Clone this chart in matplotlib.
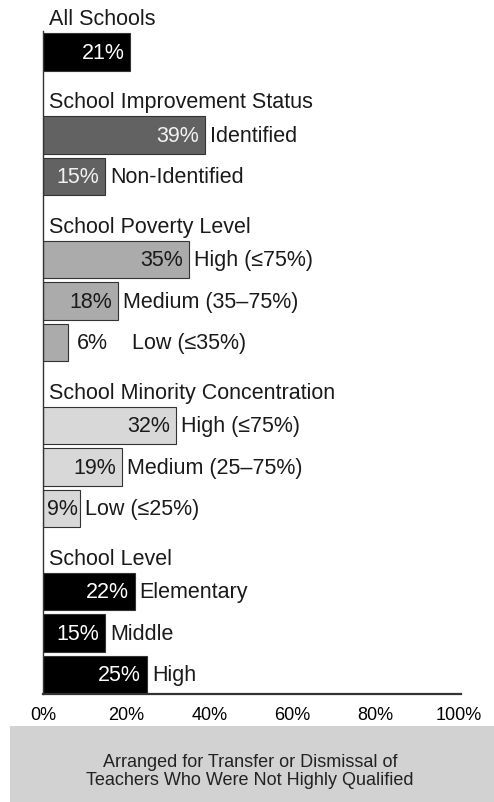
import matplotlib.pyplot as plt
from matplotlib.patches import Rectangle

plt.rcParams['font.family'] = ['Liberation Sans', 'DejaVu Sans']

# groups of the chart, top to bottom
group_titles = ["All Schools", "School Improvement Status", "School Poverty Level",
                "School Minority Concentration", "School Level"]
group_labels = [
    [""],
    ["Identified", "Non-Identified"],
    ["High (\u226475%)", "Medium (35\u201375%)", "Low (\u226435%)"],
    ["High (\u226475%)", "Medium (25\u201375%)", "Low (\u226425%)"],
    ["Elementary", "Middle", "High"],
]
group_values = [
    [21],
    [39, 15],
    [35, 18, 6],
    [32, 19, 9],
    [22, 15, 25],
]
group_colors = ["#000000", "#626262", "#ababab", "#d8d8d8", "#000000"]
value_colors = ["white", "#f2f2f2", "#1a1a1a", "#1a1a1a", "white"]
xticks = [0, 20, 40, 60, 80, 100]
footer = "Arranged for Transfer or Dismissal of\nTeachers Who Were Not Highly Qualified"

fig = plt.figure(figsize=(4.94, 8.03), dpi=100)
ax = fig.add_axes([43 / 494, 1 - 695 / 803, 418 / 494, (695 - 32) / 803])

fs = 15.5
slot = 0
for title, labels, vals, col, vcol in zip(group_titles, group_labels, group_values,
                                          group_colors, value_colors):
    ax.text(1.5, slot + 0.33, title, fontsize=fs, va='baseline', ha='left', color='#1a1a1a')
    slot += 1
    for lab, v in zip(labels, vals):
        ax.barh(slot, v, height=0.9, color=col, edgecolor='#333333', linewidth=0.8)
        if v >= 9:
            gap = 1.4 if v >= 10 else 0.5
            ax.text(v - gap, slot, f"{v}%", ha='right', va='center', fontsize=fs, color=vcol)
            lab_x = v + 1.2
        else:
            # too narrow: value sits outside the bar
            ax.text(v + 2.2, slot, f"{v}%", ha='left', va='center', fontsize=fs, color='#1a1a1a')
            lab_x = v + 15.5
        if lab:
            ax.text(lab_x, slot, lab, ha='left', va='center', fontsize=fs, color='#1a1a1a')
        slot += 1

ax.set_ylim(slot - 0.53, 0.49)
ax.set_xlim(0, 100.5)
ax.set_yticks([])
ax.set_xticks(xticks)
ax.set_xticklabels([f"{t}%" for t in xticks], fontsize=13)
ax.tick_params(axis='x', length=0, pad=9)
for s in ['top', 'right']:
    ax.spines[s].set_visible(False)
ax.spines['bottom'].set_linewidth(1.6)
ax.spines['bottom'].set_color('#333')
ax.spines['left'].set_linewidth(1.0)
ax.spines['left'].set_color('#333')

# footer box
fig.patches.append(Rectangle((10 / 494, 0), 1 - 10 / 494, 76 / 803, transform=fig.transFigure,
                             facecolor='#d2d2d2', edgecolor='none'))
fig.text(0.506, 0.0395, footer, ha='center', va='center', fontsize=13,
         linespacing=1.05, color='#222')

fig.savefig("out.png", dpi=100)
